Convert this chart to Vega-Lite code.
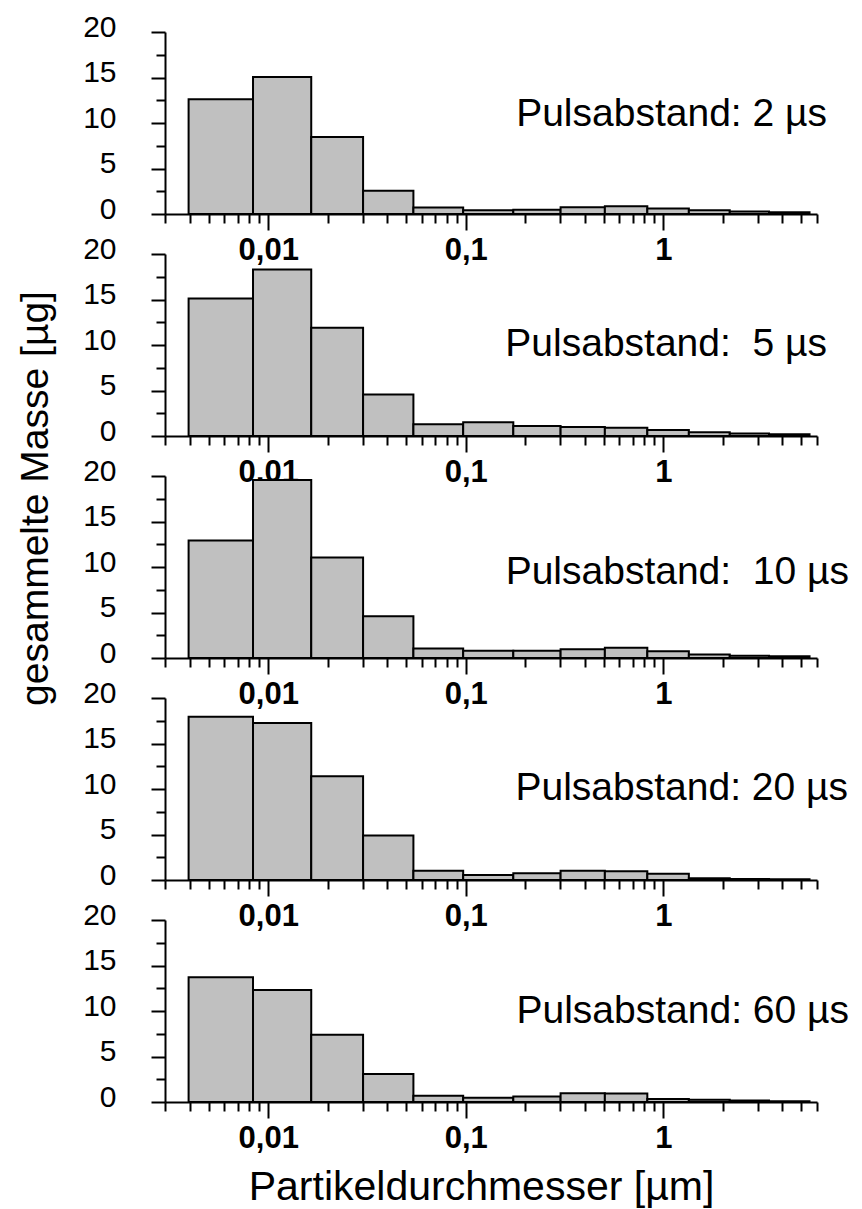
{
  "$schema": "https://vega.github.io/schema/vega-lite/v6.json",
  "padding": {"left": 15, "top": 12, "right": 5, "bottom": 5},
  "background": "white",
  "bounds": "flush",
  "spacing": 40,
  "config": {
    "view": {"stroke": null},
    "font": "Liberation Sans",
    "axis": {"domainColor": "black", "domainWidth": 2, "tickColor": "black", "tickWidth": 2, "labelColor": "black", "labelFont": "Liberation Sans", "labelFontSize": 30, "titleFont": "Liberation Sans", "titleFontSize": 39, "titleFontWeight": "normal", "titleColor": "black", "grid": false, "labelOverlap": false},
    "title": {"font": "Liberation Sans", "fontSize": 39, "fontWeight": "normal", "color": "black", "anchor": "end", "frame": "group", "orient": "top", "baseline": "middle", "offset": 0}
  },
  "datasets": {
    "d": [
      {"p": 1, "lo": 0.00395, "hi": 0.00837, "m": 12.6},
      {"p": 1, "lo": 0.00837, "hi": 0.0165, "m": 15.05},
      {"p": 1, "lo": 0.0165, "hi": 0.0302, "m": 8.45},
      {"p": 1, "lo": 0.0302, "hi": 0.0543, "m": 2.55},
      {"p": 1, "lo": 0.0543, "hi": 0.097, "m": 0.72},
      {"p": 1, "lo": 0.097, "hi": 0.174, "m": 0.42},
      {"p": 1, "lo": 0.174, "hi": 0.302, "m": 0.48},
      {"p": 1, "lo": 0.302, "hi": 0.506, "m": 0.75},
      {"p": 1, "lo": 0.506, "hi": 0.83, "m": 0.84},
      {"p": 1, "lo": 0.83, "hi": 1.347, "m": 0.6},
      {"p": 1, "lo": 1.347, "hi": 2.17, "m": 0.4},
      {"p": 1, "lo": 2.17, "hi": 3.43, "m": 0.27},
      {"p": 1, "lo": 3.43, "hi": 5.5, "m": 0.18},
      {"p": 2, "lo": 0.00395, "hi": 0.00837, "m": 15.1},
      {"p": 2, "lo": 0.00837, "hi": 0.0165, "m": 18.3},
      {"p": 2, "lo": 0.0165, "hi": 0.0302, "m": 11.9},
      {"p": 2, "lo": 0.0302, "hi": 0.0543, "m": 4.55},
      {"p": 2, "lo": 0.0543, "hi": 0.097, "m": 1.3},
      {"p": 2, "lo": 0.097, "hi": 0.174, "m": 1.5},
      {"p": 2, "lo": 0.174, "hi": 0.302, "m": 1.1},
      {"p": 2, "lo": 0.302, "hi": 0.506, "m": 1.0},
      {"p": 2, "lo": 0.506, "hi": 0.83, "m": 0.9},
      {"p": 2, "lo": 0.83, "hi": 1.347, "m": 0.65},
      {"p": 2, "lo": 1.347, "hi": 2.17, "m": 0.4},
      {"p": 2, "lo": 2.17, "hi": 3.43, "m": 0.28},
      {"p": 2, "lo": 3.43, "hi": 5.5, "m": 0.2},
      {"p": 3, "lo": 0.00395, "hi": 0.00837, "m": 12.9},
      {"p": 3, "lo": 0.00837, "hi": 0.0165, "m": 19.55},
      {"p": 3, "lo": 0.0165, "hi": 0.0302, "m": 11.05},
      {"p": 3, "lo": 0.0302, "hi": 0.0543, "m": 4.6},
      {"p": 3, "lo": 0.0543, "hi": 0.097, "m": 1.05},
      {"p": 3, "lo": 0.097, "hi": 0.174, "m": 0.8},
      {"p": 3, "lo": 0.174, "hi": 0.302, "m": 0.8},
      {"p": 3, "lo": 0.302, "hi": 0.506, "m": 0.95},
      {"p": 3, "lo": 0.506, "hi": 0.83, "m": 1.13},
      {"p": 3, "lo": 0.83, "hi": 1.347, "m": 0.73},
      {"p": 3, "lo": 1.347, "hi": 2.17, "m": 0.38},
      {"p": 3, "lo": 2.17, "hi": 3.43, "m": 0.24},
      {"p": 3, "lo": 3.43, "hi": 5.5, "m": 0.18},
      {"p": 4, "lo": 0.00395, "hi": 0.00837, "m": 17.95},
      {"p": 4, "lo": 0.00837, "hi": 0.0165, "m": 17.25},
      {"p": 4, "lo": 0.0165, "hi": 0.0302, "m": 11.4},
      {"p": 4, "lo": 0.0302, "hi": 0.0543, "m": 4.9},
      {"p": 4, "lo": 0.0543, "hi": 0.097, "m": 1.03},
      {"p": 4, "lo": 0.097, "hi": 0.174, "m": 0.55},
      {"p": 4, "lo": 0.174, "hi": 0.302, "m": 0.75},
      {"p": 4, "lo": 0.302, "hi": 0.506, "m": 1.03},
      {"p": 4, "lo": 0.506, "hi": 0.83, "m": 0.95},
      {"p": 4, "lo": 0.83, "hi": 1.347, "m": 0.7},
      {"p": 4, "lo": 1.347, "hi": 2.17, "m": 0.2},
      {"p": 4, "lo": 2.17, "hi": 3.43, "m": 0.11},
      {"p": 4, "lo": 3.43, "hi": 5.5, "m": 0.08},
      {"p": 5, "lo": 0.00395, "hi": 0.00837, "m": 13.7},
      {"p": 5, "lo": 0.00837, "hi": 0.0165, "m": 12.3},
      {"p": 5, "lo": 0.0165, "hi": 0.0302, "m": 7.4},
      {"p": 5, "lo": 0.0302, "hi": 0.0543, "m": 3.08},
      {"p": 5, "lo": 0.0543, "hi": 0.097, "m": 0.68},
      {"p": 5, "lo": 0.097, "hi": 0.174, "m": 0.46},
      {"p": 5, "lo": 0.174, "hi": 0.302, "m": 0.6},
      {"p": 5, "lo": 0.302, "hi": 0.506, "m": 0.95},
      {"p": 5, "lo": 0.506, "hi": 0.83, "m": 0.93},
      {"p": 5, "lo": 0.83, "hi": 1.347, "m": 0.33},
      {"p": 5, "lo": 1.347, "hi": 2.17, "m": 0.26},
      {"p": 5, "lo": 2.17, "hi": 3.43, "m": 0.17},
      {"p": 5, "lo": 3.43, "hi": 5.5, "m": 0.08}
    ]
  },
  "vconcat": [
    {
      "width": 652, "height": 182,
      "data": {"name": "d"},
      "transform": [{"filter": "datum.p == 1"}],
      "title": {"text": "Pulsabstand: 2 µs", "dx": 10, "dy": 126},
      "layer": [
        {"mark": {"type": "bar", "fill": "#c0c0c0", "stroke": "black", "strokeWidth": 2},
         "encoding": {
           "x": {"field": "lo", "type": "quantitative", "scale": {"type": "log", "domain": [0.003, 6], "nice": false}, "axis": {"orient": "bottom", "values": [0.01, 0.1, 1], "tickSize": 16, "labelFontWeight": "bold", "labelFontSize": 31, "labelPadding": 5, "labelFlush": false, "labelExpr": "replace(toString(datum.value), '.', ',')", "title": null, "zindex": 1}},
           "x2": {"field": "hi"},
           "y": {"field": "m", "type": "quantitative", "scale": {"domain": [0, 20], "nice": false}, "axis": {"orient": "left", "values": [0, 5, 10, 15, 20], "tickSize": 14, "labelPadding": 35, "labelOffset": -5, "title": null, "zindex": 1}},
           "y2": {"datum": 0}
         }},
        {"mark": {"type": "bar", "opacity": 0},
         "encoding": {
           "x": {"field": "lo", "type": "quantitative", "scale": {"type": "log", "domain": [0.003, 6], "nice": false}, "axis": {"orient": "bottom", "values": [0.003, 0.004, 0.005, 0.006, 0.007, 0.008, 0.009, 0.02, 0.03, 0.04, 0.05, 0.06, 0.07, 0.08, 0.09, 0.2, 0.3, 0.4, 0.5, 0.6, 0.7, 0.8, 0.9, 2, 3, 4, 5, 6], "tickSize": 9, "labels": false, "domain": false, "title": null}},
           "x2": {"field": "hi"},
           "y": {"field": "m", "type": "quantitative", "scale": {"domain": [0, 20], "nice": false}, "axis": {"orient": "left", "values": [2.5, 7.5, 12.5, 17.5], "tickSize": 9, "labels": false, "domain": false, "title": null}},
           "y2": {"datum": 0}
         }}
      ],
      "resolve": {"axis": {"x": "independent", "y": "independent"}}
    },
    {
      "width": 652, "height": 182,
      "data": {"name": "d"},
      "transform": [{"filter": "datum.p == 2"}],
      "title": {"text": "Pulsabstand: \u00a05 µs", "dx": 10, "dy": 134},
      "layer": [
        {"mark": {"type": "bar", "fill": "#c0c0c0", "stroke": "black", "strokeWidth": 2},
         "encoding": {
           "x": {"field": "lo", "type": "quantitative", "scale": {"type": "log", "domain": [0.003, 6], "nice": false}, "axis": {"orient": "bottom", "values": [0.01, 0.1, 1], "tickSize": 16, "labelFontWeight": "bold", "labelFontSize": 31, "labelPadding": 5, "labelFlush": false, "labelExpr": "replace(toString(datum.value), '.', ',')", "title": null, "zindex": 1}},
           "x2": {"field": "hi"},
           "y": {"field": "m", "type": "quantitative", "scale": {"domain": [0, 20], "nice": false}, "axis": {"orient": "left", "values": [0, 5, 10, 15, 20], "tickSize": 14, "labelPadding": 35, "labelOffset": -5, "title": null, "zindex": 1}},
           "y2": {"datum": 0}
         }},
        {"mark": {"type": "bar", "opacity": 0},
         "encoding": {
           "x": {"field": "lo", "type": "quantitative", "scale": {"type": "log", "domain": [0.003, 6], "nice": false}, "axis": {"orient": "bottom", "values": [0.003, 0.004, 0.005, 0.006, 0.007, 0.008, 0.009, 0.02, 0.03, 0.04, 0.05, 0.06, 0.07, 0.08, 0.09, 0.2, 0.3, 0.4, 0.5, 0.6, 0.7, 0.8, 0.9, 2, 3, 4, 5, 6], "tickSize": 9, "labels": false, "domain": false, "title": null}},
           "x2": {"field": "hi"},
           "y": {"field": "m", "type": "quantitative", "scale": {"domain": [0, 20], "nice": false}, "axis": {"orient": "left", "values": [2.5, 7.5, 12.5, 17.5], "tickSize": 9, "labels": false, "domain": false, "title": null}},
           "y2": {"datum": 0}
         }}
      ],
      "resolve": {"axis": {"x": "independent", "y": "independent"}}
    },
    {
      "width": 652, "height": 182,
      "data": {"name": "d"},
      "transform": [{"filter": "datum.p == 3"}],
      "title": {"text": "Pulsabstand: \u00a010 µs", "dx": 32, "dy": 305},
      "layer": [
        {"mark": {"type": "bar", "fill": "#c0c0c0", "stroke": "black", "strokeWidth": 2},
         "encoding": {
           "x": {"field": "lo", "type": "quantitative", "scale": {"type": "log", "domain": [0.003, 6], "nice": false}, "axis": {"orient": "bottom", "values": [0.01, 0.1, 1], "tickSize": 16, "labelFontWeight": "bold", "labelFontSize": 31, "labelPadding": 5, "labelFlush": false, "labelExpr": "replace(toString(datum.value), '.', ',')", "title": null, "zindex": 1}},
           "x2": {"field": "hi"},
           "y": {"field": "m", "type": "quantitative", "scale": {"domain": [0, 20], "nice": false}, "axis": {"orient": "left", "values": [0, 5, 10, 15, 20], "tickSize": 14, "labelPadding": 35, "labelOffset": -5, "title": "gesammelte Masse [µg]", "titleX": -110, "titleY": 22, "zindex": 1}},
           "y2": {"datum": 0}
         }},
        {"mark": {"type": "bar", "opacity": 0},
         "encoding": {
           "x": {"field": "lo", "type": "quantitative", "scale": {"type": "log", "domain": [0.003, 6], "nice": false}, "axis": {"orient": "bottom", "values": [0.003, 0.004, 0.005, 0.006, 0.007, 0.008, 0.009, 0.02, 0.03, 0.04, 0.05, 0.06, 0.07, 0.08, 0.09, 0.2, 0.3, 0.4, 0.5, 0.6, 0.7, 0.8, 0.9, 2, 3, 4, 5, 6], "tickSize": 9, "labels": false, "domain": false, "title": null}},
           "x2": {"field": "hi"},
           "y": {"field": "m", "type": "quantitative", "scale": {"domain": [0, 20], "nice": false}, "axis": {"orient": "left", "values": [2.5, 7.5, 12.5, 17.5], "tickSize": 9, "labels": false, "domain": false, "title": null}},
           "y2": {"datum": 0}
         }}
      ],
      "resolve": {"axis": {"x": "independent", "y": "independent"}}
    },
    {
      "width": 652, "height": 182,
      "data": {"name": "d"},
      "transform": [{"filter": "datum.p == 4"}],
      "title": {"text": "Pulsabstand: 20 µs", "dx": 31, "dy": 134},
      "layer": [
        {"mark": {"type": "bar", "fill": "#c0c0c0", "stroke": "black", "strokeWidth": 2},
         "encoding": {
           "x": {"field": "lo", "type": "quantitative", "scale": {"type": "log", "domain": [0.003, 6], "nice": false}, "axis": {"orient": "bottom", "values": [0.01, 0.1, 1], "tickSize": 16, "labelFontWeight": "bold", "labelFontSize": 31, "labelPadding": 5, "labelFlush": false, "labelExpr": "replace(toString(datum.value), '.', ',')", "title": null, "zindex": 1}},
           "x2": {"field": "hi"},
           "y": {"field": "m", "type": "quantitative", "scale": {"domain": [0, 20], "nice": false}, "axis": {"orient": "left", "values": [0, 5, 10, 15, 20], "tickSize": 14, "labelPadding": 35, "labelOffset": -5, "title": null, "zindex": 1}},
           "y2": {"datum": 0}
         }},
        {"mark": {"type": "bar", "opacity": 0},
         "encoding": {
           "x": {"field": "lo", "type": "quantitative", "scale": {"type": "log", "domain": [0.003, 6], "nice": false}, "axis": {"orient": "bottom", "values": [0.003, 0.004, 0.005, 0.006, 0.007, 0.008, 0.009, 0.02, 0.03, 0.04, 0.05, 0.06, 0.07, 0.08, 0.09, 0.2, 0.3, 0.4, 0.5, 0.6, 0.7, 0.8, 0.9, 2, 3, 4, 5, 6], "tickSize": 9, "labels": false, "domain": false, "title": null}},
           "x2": {"field": "hi"},
           "y": {"field": "m", "type": "quantitative", "scale": {"domain": [0, 20], "nice": false}, "axis": {"orient": "left", "values": [2.5, 7.5, 12.5, 17.5], "tickSize": 9, "labels": false, "domain": false, "title": null}},
           "y2": {"datum": 0}
         }}
      ],
      "resolve": {"axis": {"x": "independent", "y": "independent"}}
    },
    {
      "width": 652, "height": 182,
      "data": {"name": "d"},
      "transform": [{"filter": "datum.p == 5"}],
      "title": {"text": "Pulsabstand: 60 µs", "dx": 32, "dy": 135},
      "layer": [
        {"mark": {"type": "bar", "fill": "#c0c0c0", "stroke": "black", "strokeWidth": 2},
         "encoding": {
           "x": {"field": "lo", "type": "quantitative", "scale": {"type": "log", "domain": [0.003, 6], "nice": false}, "axis": {"orient": "bottom", "values": [0.01, 0.1, 1], "tickSize": 16, "labelFontWeight": "bold", "labelFontSize": 31, "labelPadding": 5, "labelFlush": false, "labelExpr": "replace(toString(datum.value), '.', ',')", "title": "Partikeldurchmesser [µm]", "titleFontSize": 41, "titleX": 316, "titlePadding": 14, "zindex": 1}},
           "x2": {"field": "hi"},
           "y": {"field": "m", "type": "quantitative", "scale": {"domain": [0, 20], "nice": false}, "axis": {"orient": "left", "values": [0, 5, 10, 15, 20], "tickSize": 14, "labelPadding": 35, "labelOffset": -5, "title": null, "zindex": 1}},
           "y2": {"datum": 0}
         }},
        {"mark": {"type": "bar", "opacity": 0},
         "encoding": {
           "x": {"field": "lo", "type": "quantitative", "scale": {"type": "log", "domain": [0.003, 6], "nice": false}, "axis": {"orient": "bottom", "values": [0.003, 0.004, 0.005, 0.006, 0.007, 0.008, 0.009, 0.02, 0.03, 0.04, 0.05, 0.06, 0.07, 0.08, 0.09, 0.2, 0.3, 0.4, 0.5, 0.6, 0.7, 0.8, 0.9, 2, 3, 4, 5, 6], "tickSize": 9, "labels": false, "domain": false, "title": null}},
           "x2": {"field": "hi"},
           "y": {"field": "m", "type": "quantitative", "scale": {"domain": [0, 20], "nice": false}, "axis": {"orient": "left", "values": [2.5, 7.5, 12.5, 17.5], "tickSize": 9, "labels": false, "domain": false, "title": null}},
           "y2": {"datum": 0}
         }}
      ],
      "resolve": {"axis": {"x": "independent", "y": "independent"}}
    }
  ]
}
